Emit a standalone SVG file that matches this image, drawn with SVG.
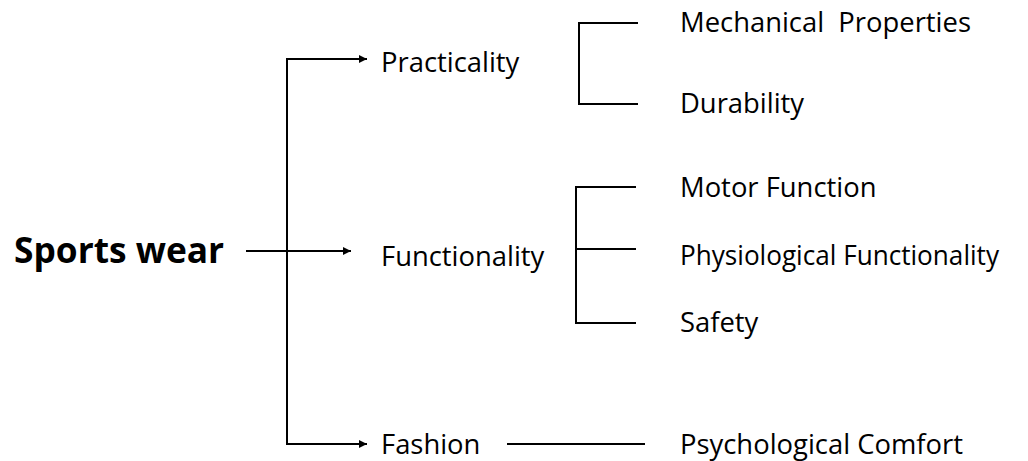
<svg xmlns="http://www.w3.org/2000/svg" width="1028" height="461" viewBox="0 0 1028 461">
<style>
  .t { font-family: "Open Sans", "Liberation Sans", sans-serif; font-size: 27.4px; fill: #000; }
  .b { font-family: "Open Sans", "Liberation Sans", sans-serif; font-size: 35.3px; font-weight: bold; fill: #000; }
  .ln { fill: none; stroke: #000; stroke-width: 2; }
</style>
<defs>
  <marker id="arr" markerUnits="userSpaceOnUse" markerWidth="8" markerHeight="8" refX="8" refY="4" orient="auto">
    <path d="M0,0 L8,4 L0,8 z" fill="#000"/>
  </marker>
</defs>
<rect width="1028" height="461" fill="#fff"/>
<g id="connectors">
  <path class="ln" d="M287 251 V59 H367" marker-end="url(#arr)"/>
  <path class="ln" d="M287 251 V444 H367" marker-end="url(#arr)"/>
  <path class="ln" d="M246 251 H351" marker-end="url(#arr)"/>
  <path class="ln" d="M638 23 H579 V104 H638"/>
  <path class="ln" d="M636 187 H576 V323 H636"/>
  <path class="ln" d="M576 249 H636"/>
  <path class="ln" d="M507 444 H645"/>
</g>
<g id="sportswear"><text class="b" x="14" y="263">Sports wear</text></g>
<g id="practicality"><text class="t" x="381" y="72">Practicality</text></g>
<g id="functionality"><text class="t" x="381" y="266">Functionality</text></g>
<g id="fashion"><text class="t" x="381" y="454">Fashion</text></g>
<g id="mechanical"><text class="t" x="680" y="32" xml:space="preserve">Mechanical  Properties</text></g>
<g id="durability"><text class="t" x="680" y="113">Durability</text></g>
<g id="motor"><text class="t" x="680" y="197">Motor Function</text></g>
<g id="physiological"><text class="t" x="680" y="265" textLength="319" lengthAdjust="spacingAndGlyphs">Physiological Functionality</text></g>
<g id="safety"><text class="t" x="680" y="332">Safety</text></g>
<g id="psychological"><text class="t" x="680" y="454">Psychological Comfort</text></g>
</svg>
